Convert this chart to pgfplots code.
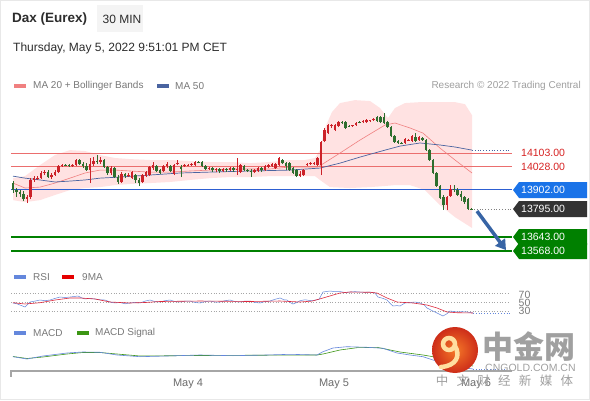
\documentclass[border=0pt]{standalone}
\usepackage{pgfplots}
\pgfplotsset{compat=1.18}
\usepackage{pgfplotstable}
\usetikzlibrary{arrows.meta}
\usepackage{fontspec}
\setmainfont{Liberation Sans}
\newfontfamily\cjk{Noto Sans CJK SC}
\definecolor{upc}{RGB}{204,34,41}
\definecolor{dnc}{RGB}{46,110,46}
\definecolor{band}{RGB}{255,226,226}
\definecolor{ma20}{RGB}{240,128,128}
\definecolor{ma50}{RGB}{74,100,160}
\definecolor{resred}{RGB}{235,110,110}
\definecolor{labred}{RGB}{215,35,35}
\definecolor{supblue}{RGB}{45,95,210}
\definecolor{boxblue}{RGB}{26,115,232}
\definecolor{boxdark}{RGB}{51,51,51}
\definecolor{supgreen}{RGB}{0,128,0}
\definecolor{arrowblue}{RGB}{55,100,165}
\definecolor{txtgray}{RGB}{120,120,120}
\definecolor{darktxt}{RGB}{45,45,45}
\definecolor{rsiblue}{RGB}{100,135,220}
\definecolor{rsired}{RGB}{220,40,60}
\definecolor{sig}{RGB}{60,150,20}
\definecolor{wmgray}{RGB}{160,160,160}
\definecolor{cream}{RGB}{255,222,160}

% rising candles (close above open)
\pgfplotstableread{
x o h l c
27 13852 13874 13830 13863
30.5 13863 13966 13852 13956
34 13956 13977 13945 13966
37.5 13966 13977 13956 13969
41 13966 14005 13961 13994
44.5 13994 14010 13983 13999
51.5 13972 13994 13961 13983
55 13983 14010 13977 13999
58.5 13999 14037 13994 14032
62 14032 14043 14027 14037
72.5 14032 14043 14027 14037
76 14037 14070 14032 14065
90 14010 14076 13939 14043
93.5 14043 14081 14032 14059
100.5 14054 14081 14043 14065
111 13994 14032 13983 14021
121.5 13945 13999 13939 13988
128.5 13977 13994 13972 13983
132 13966 14005 13961 13999
142.5 13945 13988 13939 13983
146 13977 14005 13972 13999
149.5 13983 14032 13977 14027
153 14021 14054 14010 14037
163.5 14005 14037 13999 14032
167 14032 14054 14021 14043
174 13988 14043 13983 14037
177.5 14043 14065 14037 14048
184.5 14032 14043 14027 14037
188 14037 14043 14032 14040
191.5 14037 14048 14034 14043
195 14037 14059 14032 14054
209 14016 14027 14010 14021
216 14010 14021 13999 14016
223 14005 14021 13999 14016
230 14010 14027 14005 14021
237 14010 14076 13983 14016
240.5 13999 14043 13994 14037
254.5 13999 14016 13994 14010
258 14005 14027 13999 14021
265 14010 14037 14005 14032
268.5 14027 14043 14021 14037
272 14032 14048 14027 14043
275.5 14021 14048 14016 14043
279 14037 14081 14032 14076
300 13977 14005 13972 13988
303.5 13983 14016 13977 14010
307 14037 14048 14034 14043
310.5 14043 14054 14040 14048
314 14043 14054 14037 14048
317.5 14037 14081 14032 14076
321 14037 14169 13983 14163
324.5 14169 14240 14163 14229
328 14212 14261 14207 14256
331.5 14251 14261 14240 14256
335 14229 14261 14223 14256
338.5 14251 14278 14245 14272
352.5 14251 14256 14245 14254
356 14256 14272 14251 14267
363 14272 14283 14267 14278
366.5 14272 14289 14267 14283
370 14278 14283 14272 14281
373.5 14283 14294 14278 14289
405 14158 14185 14152 14180
408.5 14174 14180 14169 14177
412 14169 14201 14163 14196
419 14174 14196 14169 14190
447 13819 13868 13792 13863
450.5 13868 13928 13863 13906
}\upcandles

% falling candles (close below open)
\pgfplotstableread{
x o h l c
13 13939 13950 13885 13901
16.5 13901 13912 13863 13890
20 13890 13901 13863 13879
23.5 13879 13896 13841 13852
48 13999 14010 13966 13972
65.5 14037 14043 14032 14034
69 14037 14043 14027 14032
79.5 14065 14070 14037 14043
83 14043 14054 14021 14032
86.5 14032 14048 14005 14010
97 14059 14092 14043 14054
104 14065 14070 14021 14027
107.5 14027 14032 13983 13994
114.5 14021 14027 13966 13972
118 13972 13983 13934 13945
125 13988 13994 13966 13977
135.5 13983 13988 13939 13956
139 13956 13966 13923 13939
156.5 14032 14037 13999 14005
160 14010 14016 13988 13994
170.5 14032 14037 13999 14005
181 14027 14037 13972 14016
198.5 14054 14059 14048 14051
202 14054 14059 14027 14032
205.5 14032 14037 14010 14016
212.5 14021 14027 13999 14010
219.5 14016 14021 13994 14005
226.5 14016 14021 13999 14010
233.5 14021 14027 13999 14010
244 14032 14037 14005 14010
247.5 14010 14016 13999 14005
251 14005 14016 13972 13999
261.5 14021 14027 13999 14010
282.5 14065 14070 14043 14048
286 14048 14054 14010 14032
289.5 14048 14054 14005 14010
293 14021 14027 13988 13994
296.5 14010 14016 13972 13977
342 14272 14278 14261 14267
345.5 14272 14278 14234 14240
349 14251 14256 14245 14248
359.5 14272 14278 14265 14269
377 14300 14305 14272 14278
380.5 14300 14305 14267 14272
384 14300 14321 14261 14267
387.5 14272 14278 14240 14245
391 14245 14251 14190 14196
394.5 14196 14201 14158 14163
398 14169 14174 14152 14158
401.5 14158 14163 14152 14155
415.5 14190 14212 14163 14169
422.5 14185 14190 14169 14174
426 14174 14180 14114 14119
429.5 14119 14125 14059 14065
433 14065 14070 13988 13994
436.5 13994 13999 13917 13923
440 13923 13928 13852 13857
443.5 13863 13874 13792 13819
454 13906 13928 13890 13903
457.5 13901 13912 13868 13874
461 13879 13896 13841 13863
464.5 13863 13868 13825 13835
468 13852 13857 13792 13797
471.5 13797 13803 13792 13795
}\dncandles

\newcommand{\pbox}[4]{%
  \fill[#2] (513,#1) -- (519,#1-8) -- (587,#1-8) -- (587,#1+8) -- (519,#1+8) -- cycle;
  \node[anchor=west, inner sep=0pt, text=#4, font=\fontsize{10.5}{12}\selectfont] at (521,#1) {#3};}

\begin{document}
\begin{tikzpicture}
\path[use as bounding box] (0,0) rectangle (590pt,400pt);
\fill[white] (0,0) rectangle (590pt,400pt);
\draw[gray!18, line width=1pt] (0.5pt,0.5pt) rectangle (589.5pt,399.5pt);

% ---------------- price panel
\begin{axis}[at={(11pt,138pt)}, anchor=south west, scale only axis,
  width=501pt, height=167pt, xmin=11, xmax=512, ymin=13508, ymax=14420,
  hide axis]
% Bollinger band: upper edge left to right, lower edge right to left
\addplot[fill=band, draw=none, forget plot] coordinates {
(13,13966) (25,13977) (40,14037) (55,14092) (70,14119) (85,14114) (100,14092)
(115,14076) (130,14070) (150,14065) (170,14065) (190,14059) (210,14054)
(230,14054) (250,14048) (270,14054) (290,14065) (305,14065) (315,14076)
(320,14119) (325,14240) (332,14327) (340,14376) (355,14392) (370,14387)
(380,14349) (388,14294) (395,14349) (405,14376) (420,14381) (440,14381)
(455,14381) (465,14370) (472,14310)
(472,13694) (455,13753) (440,13819) (425,13901) (410,13928) (395,13928)
(385,13923) (370,13917) (350,13912) (330,13917) (320,13956) (315,13977)
(305,13977) (290,13977) (270,13977) (250,13972) (230,13972) (210,13966)
(190,13956) (170,13945) (150,13939) (130,13934) (115,13928) (100,13917)
(85,13912) (70,13901) (55,13874) (40,13846) (25,13835) (13,13846)} -- cycle;

\addplot[resred, line width=0.8pt] coordinates {(11,14103) (512,14103)};
\addplot[resred, line width=0.8pt] coordinates {(11,14028) (512,14028)};
\addplot[supblue, line width=1pt] coordinates {(11,13902) (512,13902)};
\addplot[supgreen, line width=2pt] coordinates {(11,13643) (512,13643)};
\addplot[supgreen, line width=2pt] coordinates {(11,13568) (512,13568)};
\addplot[gray, dotted, line width=0.8pt] coordinates {(474,13795) (512,13795)};
\addplot[ma50, dotted, line width=0.8pt] coordinates {(472,14119) (510,14119)};

\addplot[ma20, line width=0.6pt] coordinates {
(13,13939) (25,13912) (40,13917) (55,13939) (70,13966) (85,13994) (100,14010)
(115,14010) (130,14005) (150,13999) (170,13999) (190,14005) (210,14010)
(230,14016) (250,14016) (270,14016) (290,14027) (305,14027) (318,14027)
(340,14103) (360,14174) (385,14256) (395,14267) (410,14240) (423,14212)
(440,14130) (455,14065) (472,13994)};
\addplot[ma50, line width=0.7pt] coordinates {
(13,13977) (25,13966) (40,13956) (55,13945) (70,13950) (85,13956) (100,13966)
(120,13972) (150,13983) (180,13994) (210,13999) (250,14005) (290,14010)
(320,14021) (340,14048) (360,14081) (385,14119) (400,14141) (420,14158)
(440,14147) (455,14136) (472,14119)};

% wicks
\addplot[draw=none, mark=none, forget plot,
  error bars/.cd, y dir=plus, y explicit, error mark=none,
  error bar style={upc, line width=0.6pt}]
  table[x=x, y=l, y error expr={\thisrow{h}-\thisrow{l}}] {\upcandles};
\addplot[draw=none, mark=none, forget plot,
  error bars/.cd, y dir=plus, y explicit, error mark=none,
  error bar style={dnc, line width=0.6pt}]
  table[x=x, y=l, y error expr={\thisrow{h}-\thisrow{l}}] {\dncandles};
% bodies
\addplot[draw=none, mark=none, forget plot,
  error bars/.cd, y dir=plus, y explicit, error mark=none,
  error bar style={upc, line width=2.3pt}]
  table[x=x, y=o, y error expr={\thisrow{c}-\thisrow{o}}] {\upcandles};
\addplot[draw=none, mark=none, forget plot,
  error bars/.cd, y dir=plus, y explicit, error mark=none,
  error bar style={dnc, line width=2.3pt}]
  table[x=x, y=c, y error expr={\thisrow{o}-\thisrow{c}}] {\dncandles};

\draw[arrowblue, line width=3.5pt, -{Triangle[length=10pt,width=12pt]}]
  (axis cs:477,13786) -- (axis cs:506,13573);
\end{axis}

% ---------------- RSI panel
\begin{axis}[at={(11pt,80pt)}, anchor=south west, scale only axis,
  width=501pt, height=35pt, xmin=11, xmax=512, ymin=10, ymax=87.8,
  hide axis]
\addplot[gray!70, dotted, line width=0.7pt] coordinates {(11,70) (510,70)};
\addplot[gray!70, dotted, line width=0.7pt] coordinates {(11,50) (510,50)};
\addplot[gray!70, dotted, line width=0.7pt] coordinates {(11,30) (510,30)};
\addplot[rsiblue, dotted, line width=0.8pt] coordinates {(473,25.6) (510,25.6)};
\addplot[rsiblue, line width=0.5pt] coordinates {
(13,47.8) (17,46) (20,43.3) (25,38.9) (30,50) (35,52) (40,54.4) (45,53)
(50,54.4) (55,58) (60,61.1) (65,60) (70,61.1) (78,63.3) (82,59) (85,56.7)
(90,58) (95,56.7) (100,55) (105,54.4) (110,50) (115,47.8) (120,49) (125,46)
(130,47.8) (135,49) (140,47.8) (145,52) (150,54.4) (155,51) (160,50) (165,53)
(170,54.4) (175,51) (180,50) (185,52) (190,52.2) (195,49) (200,47.8) (205,51)
(210,52.2) (215,50) (220,50) (225,53) (230,54.4) (235,51) (240,50) (245,52)
(250,52.2) (255,49) (260,47.8) (265,51) (270,52.2) (275,56) (280,58.9)
(284,55) (287,54.4) (290,49) (293,45.6) (297,49) (300,52.9) (305,55)
(310,53.3) (315,54) (319,56) (323,72.2) (327,73.5) (330,74.4) (335,73)
(340,73.3) (345,71) (350,72.2) (355,73) (360,72.2) (365,71.5) (370,72.2)
(375,70) (378,61.1) (383,58) (387,54.4) (390,47) (393,41.1) (397,42)
(400,41.1) (405,47.8) (410,48.9) (415,50) (420,47.8) (424,44) (427,36.7)
(432,31) (437,25.6) (443,18.9) (447,24) (450,30) (457,27.8) (462,28.5)
(467,27.8) (473,25.6)};
\addplot[rsired, line width=0.6pt] coordinates {
(13,48.4) (25,45.6) (40,48.4) (55,54.4) (70,58.9) (80,58.9) (95,56.7)
(110,50) (130,47.8) (145,48.9) (160,51.1) (200,52.2) (250,51.1) (280,52.2)
(300,50) (312,52) (323,58.9) (340,70) (350,72.2) (370,71.6) (377,70)
(387,58.9) (397,50) (413,47.8) (427,43.3) (437,36.7) (447,27.8) (457,26.2)
(473,25.6)};
\end{axis}

% ---------------- MACD panel
\begin{axis}[at={(11pt,30pt)}, anchor=south west, scale only axis,
  width=501pt, height=32pt, xmin=11, xmax=512, ymin=-60, ymax=68,
  hide axis]
\addplot[rsiblue, dotted, line width=0.8pt] coordinates {(473,-56) (505,-56)};
\addplot[sig, line width=0.6pt] coordinates {
(13,-6) (27,-14) (43,-8) (67,4) (83,10) (100,10) (117,4) (140,-4) (200,-2)
(267,-0.8) (317,0) (323,4) (340,20) (357,29.2) (377,30.8) (400,12) (423,0)
(433,-6.8) (450,-24) (473,-44)};
\addplot[rsiblue, line width=0.6pt] coordinates {
(13,-6.8) (27,-16) (43,-4) (67,8) (83,12) (100,10.8) (117,0) (140,-6.8)
(167,-4) (200,0) (233,-2.8) (267,0) (290,2.8) (317,0) (323,13.2) (333,28)
(347,33.2) (367,30.8) (383,26.8) (397,8) (410,0) (423,-6.8) (433,-20)
(445,-36) (458,-48) (473,-56)};
\end{axis}

% ---------------- annotations in pixel coordinates
\begin{scope}[shift={(0pt,400pt)}, x=1pt, y=-1pt]
  % header
  \fill[gray!9] (97,5) rectangle (143,32);
  \node[anchor=west, inner sep=0pt, text=darktxt, font=\bfseries\fontsize{13.5}{16}\selectfont] at (12,19) {Dax (Eurex)};
  \node[inner sep=0pt, text=darktxt, font=\fontsize{12}{14}\selectfont] at (122,19) {30 MIN};
  \node[anchor=west, inner sep=0pt, text=darktxt, font=\fontsize{12}{14}\selectfont] at (13,48) {Thursday, May 5, 2022 9:51:01 PM CET};
  % legend top
  \fill[ma20] (14,84) rectangle (26,88);
  \node[anchor=west, inner sep=0pt, text=txtgray, font=\fontsize{10}{12}\selectfont] at (33,86) {MA 20 + Bollinger Bands};
  \fill[ma50] (157,84) rectangle (169,88);
  \node[anchor=west, inner sep=0pt, text=txtgray, font=\fontsize{10}{12}\selectfont] at (175,86) {MA 50};
  \node[anchor=east, inner sep=0pt, text=gray!75, font=\fontsize{10}{12}\selectfont] at (581,86) {Research © 2022 Trading Central};
  % price labels
  \node[anchor=west, inner sep=0pt, text=labred, font=\fontsize{10.5}{12}\selectfont] at (521,153) {14103.00};
  \node[anchor=west, inner sep=0pt, text=labred, font=\fontsize{10.5}{12}\selectfont] at (521,167) {14028.00};
  \pbox{190}{boxblue}{13902.00}{white}
  \pbox{209}{boxdark}{13795.00}{white}
  \pbox{237}{supgreen}{13643.00}{white}
  \pbox{251}{supgreen}{13568.00}{white}
  % RSI legend and labels
  \fill[rsiblue] (14,275) rectangle (26,279);
  \node[anchor=west, inner sep=0pt, text=txtgray, font=\fontsize{10}{12}\selectfont] at (33,277) {RSI};
  \fill[red!90!black] (62,275) rectangle (74,279);
  \node[anchor=west, inner sep=0pt, text=txtgray, font=\fontsize{10}{12}\selectfont] at (82,277) {9MA};
  \node[anchor=west, inner sep=0.5pt, fill=white, text=txtgray, font=\fontsize{10.5}{12}\selectfont] at (518,295) {70};
  \node[anchor=west, inner sep=0.5pt, fill=white, text=txtgray, font=\fontsize{10.5}{12}\selectfont] at (518,303) {50};
  \node[anchor=west, inner sep=0.5pt, fill=white, text=txtgray, font=\fontsize{10.5}{12}\selectfont] at (518,311) {30};
  % MACD legend
  \fill[rsiblue] (14,331) rectangle (26,335);
  \node[anchor=west, inner sep=0pt, text=txtgray, font=\fontsize{10}{12}\selectfont] at (33,333) {MACD};
  \fill[sig] (77,331) rectangle (89,335);
  \node[anchor=west, inner sep=0pt, text=txtgray, font=\fontsize{10}{12}\selectfont] at (95,333) {MACD Signal};
  % date axis
  \draw[gray!70, line width=1.2pt] (11,371) -- (512,371);
  \draw[gray!70, line width=1.2pt] (11,370.4) -- (11,377);
  \node[text=gray!85!black, font=\fontsize{11}{13}\selectfont] at (188,384) {May 4};
  \node[text=gray!85!black, font=\fontsize{11}{13}\selectfont] at (334,384) {May 5};
  \node[text=gray!85!black, font=\fontsize{11}{13}\selectfont] at (476,384) {May 6};
  % watermark
  \shade[inner color={rgb,255:red,245;green,120;blue,40}, outer color={rgb,255:red,205;green,45;blue,25}] (455,350) circle (23);
  \draw[cream, line width=4.5pt] (449,344) circle (6);
  \draw[cream, line width=4.5pt, line cap=round] (455,346) .. controls (461,356) and (456,366) .. (441,367);
  \node[anchor=west, inner sep=0pt, text=wmgray, font=\cjk\bfseries\fontsize{31}{33}\selectfont] at (482,347) {中金网};
  \node[anchor=west, inner sep=0pt, text=wmgray, font=\fontsize{10.5}{12}\selectfont] at (485,368) {CNGOLD.COM.CN};
  \foreach \ch [count=\k from 0] in {中,文,财,经,新,媒,体}
    \node[inner sep=0pt, text=wmgray, font=\cjk\fontsize{12.5}{14}\selectfont] at (442+20.8*\k,381) {\ch};
\end{scope}
\end{tikzpicture}
\end{document}
